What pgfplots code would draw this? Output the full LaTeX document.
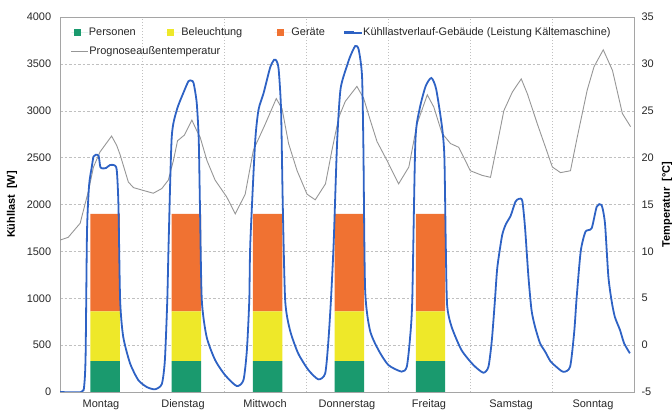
\documentclass[border=0pt]{standalone}
\usepackage{fontspec}
\setmainfont{Liberation Sans}
\usepackage{pgfplots}
\usepackage{pgfplotstable}
\pgfplotsset{compat=1.18}
\definecolor{cGreen}{RGB}{26,154,110}
\definecolor{cYellow}{RGB}{238,232,41}
\definecolor{cOrange}{RGB}{240,114,50}
\definecolor{cBlue}{RGB}{46,98,196}
\definecolor{cGray}{RGB}{150,150,150}
\definecolor{cGrid}{RGB}{192,192,192}
\definecolor{cFrame}{RGB}{165,165,165}
\definecolor{cText}{RGB}{40,40,40}

\pgfplotstableread{
x P B G
13.2 330 530 1040
37.0 330 530 1040
60.75 330 530 1040
84.7 330 530 1040
108.45 330 530 1040
}\bars

\pgfplotsset{
  base/.style={at={(60bp,22bp)}, anchor=south west, scale only axis,
    width=574bp, height=375bp, xmin=0, xmax=168,
    /pgf/number format/assume math mode=true,
    /pgf/number format/1000 sep={},
    scaled y ticks=false,
    tick style={draw=none},
    ticklabel style={color=cText},
    font=\fontsize{11}{13}\selectfont},
  sqlegend/.style={legend image code/.code={\path (0bp,0bp) -- (17bp,0bp); \fill[##1] (2.5bp,-3bp) rectangle (9.5bp,4bp);}},
  lnlegend/.style={legend image code/.code={\path (0bp,0bp) -- (17bp,0bp); \draw[##1] (0bp,0.5bp) -- (12bp,0.5bp);}},
  blegend/.style={legend image code/.code={\path (0bp,0bp) -- (18bp,0bp); \draw[##1, line cap=butt] (0bp,0.5bp) -- (10bp,0.5bp);}},
}

\begin{document}
\begin{tikzpicture}[font=\fontsize{11}{13}\selectfont]
\useasboundingbox (0,0) rectangle (672bp,414bp);

% main axis: grid, frame, bars
\begin{axis}[base,
  ymin=0, ymax=4000,
  ybar stacked, bar width=8.6,
  axis line style={cFrame},
  ytick={0,500,...,4000},
  ymajorgrids=true,
  major grid style={cGrid, dash pattern=on 2.5bp off 2bp},
  xtick={12,36,60,84,108,132,156},
  xticklabels={Montag,Dienstag,Mittwoch,Donnerstag,Freitag,Samstag,Sonntag},
  xticklabel style={yshift=-4bp},
  yticklabel style={xshift=-5.3bp},
  extra x ticks={24,48,72,96,120,144},
  extra x tick labels={},
  extra x tick style={xmajorgrids=true, major grid style={cGrid, dash pattern=on 1bp off 2bp}},
  ylabel={\bfseries Kühllast\ \ [W]},
  ylabel style={at={(axis description cs:-0.0836,0.5)}, anchor=center, color=black},
]
\addplot[fill=cGreen, draw=none] table[x=x, y=P] {\bars};
\addplot[fill=cYellow, draw=none] table[x=x, y=B] {\bars};
\addplot[fill=cOrange, draw=none] table[x=x, y=G] {\bars};
\end{axis}

% temperature axis (right)
\begin{axis}[base,
  ymin=-5, ymax=35,
  axis x line=none,
  axis y line*=right,
  axis line style={cFrame},
  ytick={-5,0,...,35},
  yticklabel style={xshift=4bp},
  ylabel={\bfseries Temperatur\ \ [°C]},
  ylabel style={at={(axis description cs:1.0575,0.5)}, anchor=center, color=black},
]
\addplot[cGray, line width=0.9bp] table {
0 11.2
2.4 11.5
5.9 13.0
7.3 15.0
8.3 16.4
9.8 19.0
11.7 20.6
13.7 21.6
15.1 22.3
16.6 21.3
17.6 20.3
20.0 17.4
21.5 16.8
24.4 16.5
27.3 16.2
29.8 16.7
31.7 17.6
33.2 19.7
34.4 21.8
36.4 22.4
38.6 24.0
40.0 22.9
41.0 22.2
43.0 19.7
45.4 17.6
48.8 15.8
51.3 14.0
54.2 16.1
56.6 20.8
60.1 23.6
63.3 26.3
65.0 25.2
66.9 21.5
69.4 18.6
72.3 16.1
74.7 15.5
77.7 17.2
79.6 20.8
81.6 24.3
83.5 26.0
86.9 27.6
88.9 26.3
90.8 24.0
92.8 21.7
95.7 19.7
99.1 17.2
102.1 19.0
104.5 23.6
107.5 26.7
109.4 25.4
111.8 22.6
114.3 21.5
116.7 21.1
120.1 18.6
123.6 18.1
126.0 17.9
128.0 21.5
129.9 25.0
132.4 27.0
135.0 28.4
136.8 26.8
139.7 23.6
142.1 21.1
144.1 19.0
146.5 18.4
149.4 18.6
151.4 22.2
154.3 27.2
156.3 29.7
159.0 31.5
161.7 29.3
164.6 24.7
167.0 23.3
};
\end{axis}

% cooling load axis (hidden) + legend
\begin{axis}[base,
  ymin=0, ymax=4000,
  hide axis,
  legend columns=4,
  legend cell align=left,
  legend style={draw=none, fill=none, inner sep=0pt, outer sep=0pt,
    at={(axis description cs:0.0192,0.9706)}, anchor=north west,
    nodes={inner sep=0pt, text=black!85}, row sep=9.5bp, column sep=0pt,
    font=\fontsize{11}{13}\selectfont},
]
\addlegendimage{sqlegend, fill=cGreen, draw=none}
\addlegendentry{\makebox[75.5bp][l]{Personen}}
\addlegendimage{sqlegend, fill=cYellow, draw=none}
\addlegendentry{\makebox[93bp][l]{Beleuchtung}}
\addlegendimage{sqlegend, fill=cOrange, draw=none}
\addlegendentry{\makebox[52bp][l]{Geräte}}
\addplot[cBlue, line width=1.8bp, blegend, smooth, tension=0.4] table {
0 0
6.3 0
7.1 75
7.5 400
7.9 1700
8.5 2200
9.3 2400
9.8 2510
10.4 2530
11.3 2520
11.8 2400
12.5 2385
13.5 2390
14.6 2420
15.8 2420
16.6 2370
17.1 2000
17.6 981
18.5 590
20.5 306
22.9 128
25.4 53
27.8 29
29.8 85
30.7 341
31.4 981
31.8 1600
32.7 2720
34.2 3010
36.1 3190
37.6 3315
38.5 3320
39.1 3295
40.0 3090
40.6 2700
41.0 1900
41.5 981
42.9 590
45.4 341
48.3 181
51.7 64
53.7 128
54.7 448
55.4 981
55.7 1590
57.1 2660
58.1 3010
59.6 3190
61.5 3460
62.7 3545
63.4 3530
64.0 3440
64.7 3010
65.2 2000
65.9 981
67.3 661
69.7 413
72.7 235
75.6 135
77.6 196
78.5 519
79.3 981
80.1 1590
81.1 2660
82.1 3230
84.0 3480
85.0 3585
86.4 3690
87.4 3655
88.4 3370
88.8 2600
89.3 1100
90.7 661
93.2 448
96.1 288
100.0 217
101.5 270
102.4 555
103.1 981
104.0 2660
105.2 3010
107.0 3260
108.7 3350
110.1 3230
111.8 2830
112.5 2510
112.9 1590
113.3 930
114.6 697
117.5 448
121.0 288
123.9 206
125.4 270
126.4 555
127.3 981
128.0 1330
129.4 1670
130.5 1790
131.9 1880
133.3 2030
134.3 2060
135.3 2040
136.1 1757
137.1 1230
138.0 875
139.0 700
140.5 520
142.0 430
143.5 330
144.9 280
147.3 215
149.3 270
150.5 640
151.2 1000
152.4 1500
153.8 1710
155.6 1746
157.1 1977
158.5 1995
159.5 1800
160.5 1230
161.5 960
162.4 800
163.9 661
165.1 520
166.8 413
};
\addlegendentry{Kühllastverlauf-Gebäude (Leistung Kältemaschine)}
\addlegendimage{lnlegend, cGray, line width=0.9bp}
\addlegendentry{\makebox[0pt][l]{Prognoseaußentemperatur}}
\end{axis}
\end{tikzpicture}
\end{document}
